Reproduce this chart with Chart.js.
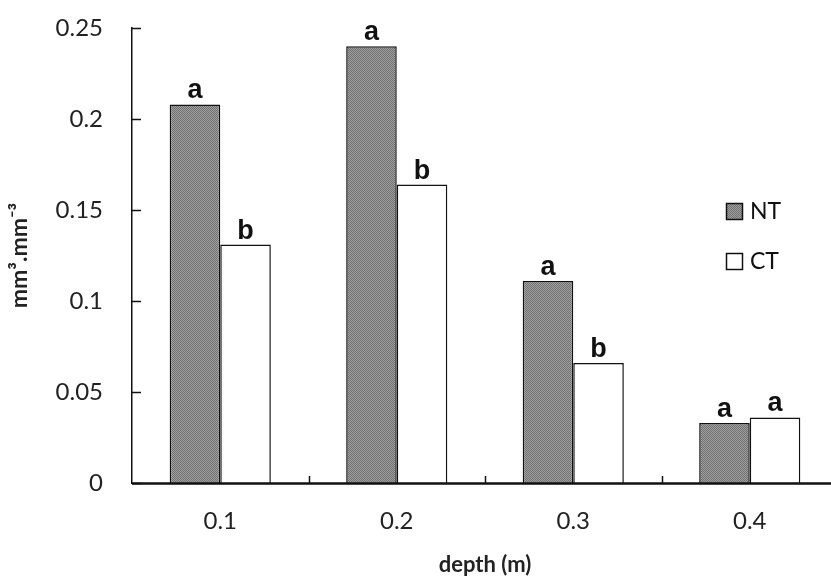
<!DOCTYPE html>
<html>
<head>
<meta charset="utf-8">
<script src="https://cdn.jsdelivr.net/npm/chart.js@4.4.1/dist/chart.umd.min.js"></script>
<style>
    html, body { margin: 0; padding: 0; background: #ffffff; }
    #wrap { width: 831px; height: 578px; overflow: hidden; position: relative; }
    #box { width: 850px; height: 578px; position: absolute; left: 0; top: 0; }
</style>
</head>
<body>
<div id="wrap"><div id="box"><canvas id="grafico"></canvas></div></div>
<script>
// valores
const categorias = ['0.1', '0.2', '0.3', '0.4'];
const valoresNT = [0.208, 0.240, 0.111, 0.033];
const valoresCT = [0.131, 0.164, 0.066, 0.036];
const letrasNT = ['a', 'a', 'a', 'a'];
const letrasCT = ['b', 'b', 'b', 'a'];
const marcasY = [0, 0.05, 0.1, 0.15, 0.2, 0.25];

const fuente = "Lato, 'Open Sans', sans-serif";

/*
* Trama gris de las barras NT
*/
function crearTrama() {
    let c = document.createElement('canvas');
    c.width = 2; c.height = 2;
    let g = c.getContext('2d');
    g.fillStyle = '#a0a0a0';
    g.fillRect(0, 0, 2, 2);
    g.fillStyle = '#707070';
    g.fillRect(0, 0, 1, 1);
    g.fillRect(1, 1, 1, 1);
    return g.createPattern(c, 'repeat');
}

/*
* Letras sobre las barras, marcas de ejes y leyenda
*/
const extras = {
    id: 'extras',
    afterDatasetsDraw(chart) {
        let ctx = chart.ctx;
        let x = chart.scales.x, y = chart.scales.y;
        let area = chart.chartArea;
        ctx.save();
        // marcas del eje y (hacia adentro)
        ctx.strokeStyle = '#111';
        ctx.lineWidth = 1.5;
        marcasY.forEach(function (v) {
            let py = Math.round(y.getPixelForValue(v)) + 0.5;
            ctx.beginPath();
            ctx.moveTo(area.left, py);
            ctx.lineTo(area.left + 9, py);
            ctx.stroke();
        });
        // marcas del eje x entre categorias
        for (let i = 1; i < categorias.length; i++) {
            let px = Math.round((x.getPixelForValue(i - 1) + x.getPixelForValue(i)) / 2) + 0.5;
            ctx.beginPath();
            ctx.moveTo(px, area.bottom);
            ctx.lineTo(px, area.bottom - 7);
            ctx.stroke();
        }
        // eje x
        ctx.lineWidth = 2.5;
        ctx.beginPath();
        ctx.moveTo(area.left, area.bottom + 0.5);
        ctx.lineTo(chart.width, area.bottom + 0.5);
        ctx.stroke();

        // letras
        ctx.fillStyle = '#111';
        ctx.font = "bold 27px 'Liberation Sans', Arial, sans-serif";
        ctx.textAlign = 'center';
        ctx.textBaseline = 'alphabetic';
        [letrasNT, letrasCT].forEach(function (letras, d) {
            chart.getDatasetMeta(d).data.forEach(function (bar, i) {
                ctx.fillText(letras[i], bar.x, bar.y - 6);
            });
        });

        // leyenda
        ctx.font = '23px ' + fuente;
        ctx.textAlign = 'left';
        ctx.textBaseline = 'middle';
        chart.data.datasets.forEach(function (ds, d) {
            let by = 203 + d * 50;
            ctx.fillStyle = ds.backgroundColor;
            ctx.fillRect(726, by, 17, 17);
            ctx.lineWidth = 1.5;
            ctx.strokeStyle = '#111';
            ctx.strokeRect(726.5, by + 0.5, 16, 16);
            ctx.fillStyle = '#111';
            ctx.fillText(ds.label, 750, by + 9);
        });
        ctx.restore();
    }
};

let ctx1 = document.getElementById('grafico').getContext('2d');
let grafico = new Chart(ctx1, {
    type: 'bar',
    data: {
        labels: categorias,
        datasets: [
            {
                label: 'NT',
                data: valoresNT,
                backgroundColor: crearTrama(),
                borderColor: '#111',
                borderWidth: 1.5,
                borderSkipped: 'bottom'
            },
            {
                label: 'CT',
                data: valoresCT,
                backgroundColor: '#ffffff',
                borderColor: '#111',
                borderWidth: 1.5,
                borderSkipped: 'bottom'
            }
        ]
    },
    plugins: [extras],
    options: {
        responsive: true,
        maintainAspectRatio: false,
        animation: false,
        datasets: {
            bar: { categoryPercentage: 0.573, barPercentage: 1.0 }
        },
        layout: { padding: { top: 28, right: 12, left: 0, bottom: 0 } },
        plugins: {
            legend: { display: false },
            tooltip: { enabled: false }
        },
        scales: {
            x: {
                grid: { display: false, drawTicks: false },
                border: { display: false },
                ticks: {
                    color: '#222',
                    font: { family: fuente, size: 24 },
                    padding: 24
                },
                title: {
                    display: true,
                    text: 'depth (m)',
                    color: '#222',
                    font: { family: fuente, size: 22, weight: 'bold' },
                    padding: { top: 10, bottom: 0 }
                },
                afterFit: function (scale) { scale.height = 95; }
            },
            y: {
                min: 0,
                max: 0.25,
                afterBuildTicks: function (scale) {
                    scale.ticks = marcasY.map(function (v) { return { value: v }; });
                },
                grid: { display: false, drawTicks: false },
                border: { display: true, color: '#111', width: 1.5 },
                ticks: {
                    color: '#222',
                    font: { family: fuente, size: 24 },
                    padding: 29,
                    callback: function (v) { return String(Number(v.toFixed(2))); }
                },
                title: {
                    display: true,
                    text: 'mm³.mm⁻³',
                    color: '#222',
                    font: { family: fuente, size: 23, weight: 'bold' },
                    padding: { top: 6, bottom: 0 }
                },
                afterFit: function (scale) {
                    scale.width = 132;
                    scale.paddingTop = 0;
                    scale.paddingBottom = 0;
                }
            }
        }
    }
});
</script>
</body>
</html>
